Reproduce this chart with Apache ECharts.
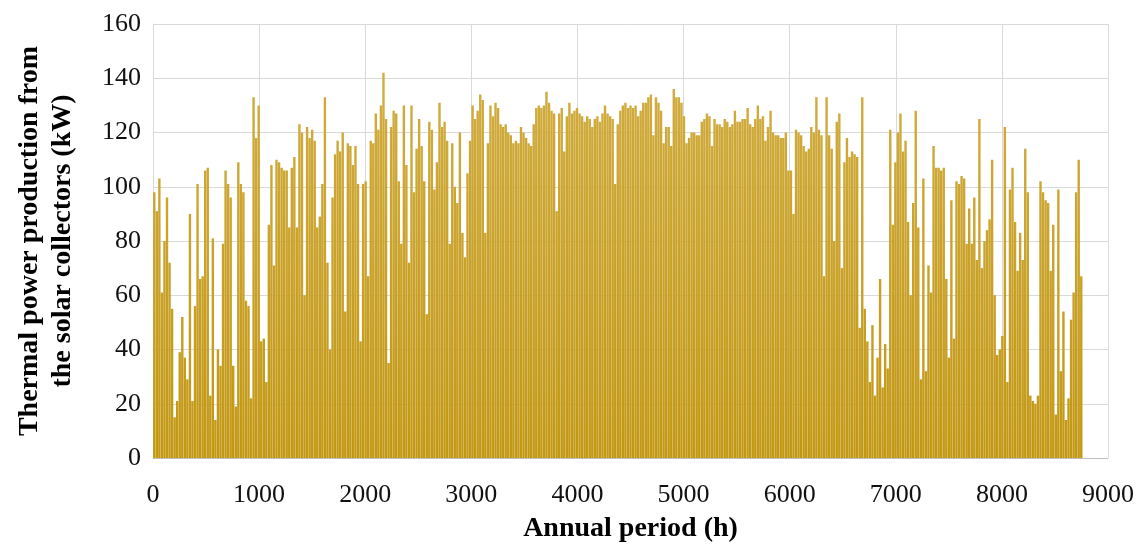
<!DOCTYPE html>
<html>
<head>
<meta charset="utf-8">
<script src="https://cdn.jsdelivr.net/npm/echarts@6/dist/echarts.min.js"></script>
<style>
html,body{margin:0;padding:0;background:#fff;}
#chart{width:1136px;height:544px;}
</style>
</head>
<body>
<div id="chart"></div>
<script>
// Daily peak thermal power (kW), one value per day of the year (365 days)
var peaksJanFeb = [98,91,103,61,80,96,72,55,15,21,39,52,37,29,90,21,56,101,66,67,106,107,23,81,14,40,34,79,106,101,96,34,19,109];
var peaksPart2 = [101,98,58,56,22,133,118,130,43,44,28,86,108,71,110,109,107,106,106,85,107,111,85,123,120,60,122,118,121,117,85,89,101,133,72,40];
var peaksPart3 = [96,112,117,113,120,54,116,115,108,115,101,43,101,102,67,117,116,127,121,130,142,125,35,122,128,127,102,79,130,108,72,130,98,114,125,115];
var peaksPart4 = [102,53,124,121,99,109,131,122,124,117,79,116,100,94,120,83,74,105,117,130,125,128,134,132,83,116,130,126,131,129,123,122,123,120,119,116];
var peaksPart5 = [117,116,122,120,118,116,115,123,129,130,129,130,135,131,128,127,91,127,129,113,126,131,127,128,129,127,126,124,126,125,122,125,126,124,127,130];
var peaksPart6 = [127,126,125,101,123,128,130,131,129,130,129,130,126,128,131,131,133,134,119,133,131,128,116,122,122,115,136,133,133,131,126,116,118,120,120,119];
var peaksPart7 = [119,124,125,127,126,115,125,123,123,122,125,124,122,123,128,124,124,125,125,129,123,122,125,130,125,126,117,122,128,120,119,119,118,118,120,106];
var peaksPart8 = [106,90,121,120,119,115,113,114,122,120,133,121,119,67,133,119,114,80,124,127,70,109,118,111,113,112,111,48,133,55,43,28,49,23,37,66];
var peaksPart9 = [26,42,33,121,86,109,120,127,113,117,87,60,94,128,85,29,103,32,71,61,115,107,107,106,107,66,37,95,44,102,101,104,103,79,92,79];
var peaksPart10 = [96,73,125,70,80,84,88,110,60,38,40,45,122,28,99,107,87,69,83,73,114,98,23,21,20,23,102,98,95,94,69,86,16,99,32,54,14,22,51,61,98,110,67];

var xTicks = [0,1000,2000,3000,4000,5000,6000,7000,8000,9000];
var yTicks = [0,20,40,60,80,100,120,140,160];

var dailyPeaks = [].concat(peaksJanFeb, peaksPart2, peaksPart3, peaksPart4, peaksPart5,
  peaksPart6, peaksPart7, peaksPart8, peaksPart9, peaksPart10);

// each day's peak is placed at midday of that day (hour of year)
var seriesData = dailyPeaks.map(function (v, d) { return [d * 24 + 12, v]; });

var font = 'Liberation Serif, Times New Roman, serif';
var chart = echarts.init(document.getElementById('chart'), null, {renderer: 'canvas'});
chart.setOption({
  animation: false,
  backgroundColor: '#ffffff',
  grid: {left: 153, right: 28, top: 24, bottom: 86, containLabel: false, outerBoundsMode: 'none'},
  xAxis: {
    type: 'value',
    min: xTicks[0], max: xTicks[xTicks.length - 1], interval: 1000,
    name: 'Annual period (h)',
    nameLocation: 'middle', nameGap: 57,
    nameTextStyle: {fontFamily: font, fontWeight: 'bold', fontSize: 28, color: '#000'},
    axisLine: {show: true, lineStyle: {color: '#bfbfbf', width: 1}},
    axisTick: {show: false},
    axisLabel: {fontFamily: font, fontSize: 26, color: '#111', margin: 24,
      formatter: function (v) { return String(v); }},
    splitLine: {show: true, lineStyle: {color: '#d9d9d9', width: 1}}
  },
  yAxis: {
    type: 'value',
    min: yTicks[0], max: yTicks[yTicks.length - 1], interval: 20,
    name: 'Thermal power production from\nthe solar collectors (kW)',
    nameLocation: 'middle', nameGap: 74, nameRotate: 90,
    nameTextStyle: {fontFamily: font, fontWeight: 'bold', fontSize: 28, color: '#000', lineHeight: 33},
    axisLine: {show: true, lineStyle: {color: '#d9d9d9', width: 1}},
    axisTick: {show: false},
    axisLabel: {fontFamily: font, fontSize: 26, color: '#111', margin: 12},
    splitLine: {show: true, lineStyle: {color: '#d9d9d9', width: 1}}
  },
  series: [{
    type: 'bar',
    data: seriesData,
    barWidth: 2.4,
    itemStyle: {
      color: {
        type: 'linear', x: 0, y: 24, x2: 0, y2: 458, global: true,
        colorStops: [{offset: 0, color: '#D3AF45'}, {offset: 1, color: '#C29712'}]
      }
    }
  }]
});
</script>
</body>
</html>
